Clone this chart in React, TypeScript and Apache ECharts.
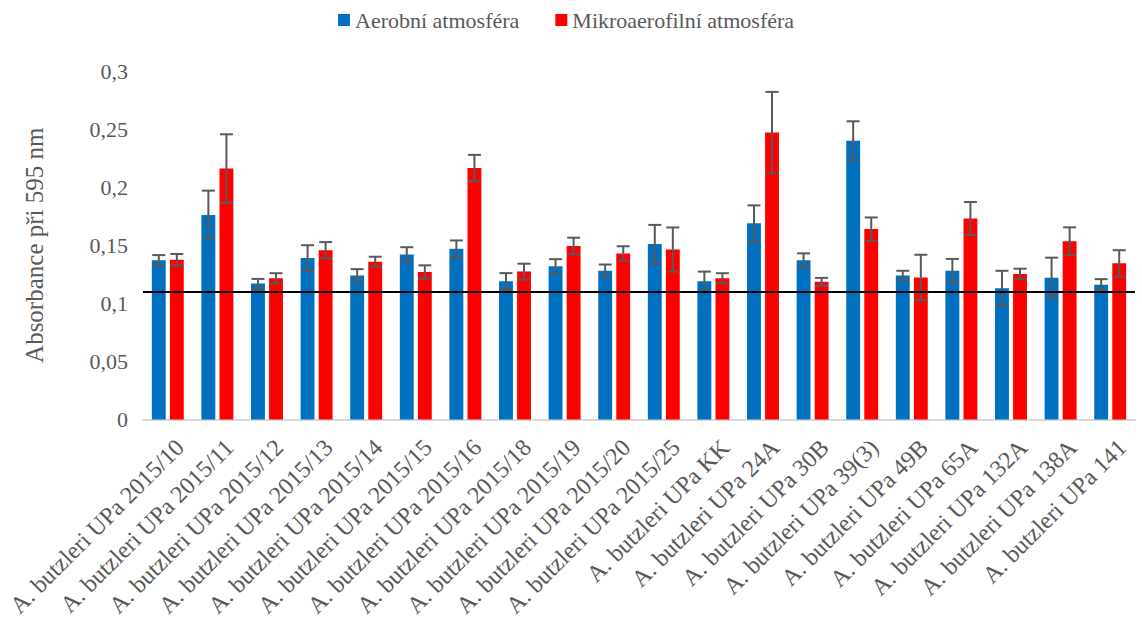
import React, { useEffect, useRef } from "react";
import * as echarts from "echarts";

const categories = [
  "A. butzleri UPa 2015/10",
  "A. butzleri UPa 2015/11",
  "A. butzleri UPa 2015/12",
  "A. butzleri UPa 2015/13",
  "A. butzleri UPa 2015/14",
  "A. butzleri UPa 2015/15",
  "A. butzleri UPa 2015/16",
  "A. butzleri UPa 2015/18",
  "A. butzleri UPa 2015/19",
  "A. butzleri UPa 2015/20",
  "A. butzleri UPa 2015/25",
  "A. butzleri UPa KK",
  "A. butzleri UPa 24A",
  "A. butzleri UPa 30B",
  "A. butzleri UPa 39(3)",
  "A. butzleri UPa 49B",
  "A. butzleri UPa 65A",
  "A. butzleri UPa 132A",
  "A. butzleri UPa 138A",
  "A. butzleri UPa 141",
];

const aerobic = [0.137, 0.176, 0.117, 0.139, 0.124, 0.142, 0.147, 0.119, 0.132, 0.128, 0.151, 0.119, 0.169, 0.137, 0.240, 0.124, 0.128, 0.113, 0.122, 0.116];
const aerobicErr = [0.0045, 0.021, 0.004, 0.011, 0.0054, 0.0063, 0.0071, 0.007, 0.006, 0.0054, 0.0165, 0.0083, 0.0153, 0.006, 0.0167, 0.004, 0.0102, 0.015, 0.0173, 0.0048];
const micro = [0.1375, 0.216, 0.1216, 0.1457, 0.1358, 0.127, 0.2165, 0.1273, 0.1494, 0.1429, 0.1463, 0.1216, 0.247, 0.1185, 0.1639, 0.1222, 0.173, 0.1253, 0.1534, 0.1344];
const microErr = [0.005, 0.0295, 0.0043, 0.007, 0.0043, 0.0057, 0.0113, 0.0068, 0.0071, 0.0062, 0.019, 0.0043, 0.035, 0.0034, 0.01, 0.0196, 0.0142, 0.0045, 0.012, 0.0113];
const referenceLine = 0.111;

const seriesNames = ["Aerobní atmosféra", "Mikroaerofilní atmosféra"];
const colors = ["#0070C0", "#FF0000"];

const FONT = "Liberation Serif";
const TEXT = "#595959";

function errorSeries(values: number[], errs: number[], side: number) {
  return {
    type: "custom",
    z: 10,
    silent: true,
    data: values.map((v, i) => [i, v, errs[i]]),
    encode: { x: 0, y: 1 },
    renderItem: (params: any, api: any) => {
      const idx = api.value(0);
      const v = api.value(1);
      const e = api.value(2);
      const band = api.size([1, 0])[0];
      const center = api.coord([idx, v]);
      const x = center[0] + side * 0.182 * band;
      const hi = api.coord([idx, v + e])[1];
      const lo = api.coord([idx, v - e])[1];
      const hw = 6.5;
      const style = { stroke: "#595959", lineWidth: 2 };
      return {
        type: "group",
        children: [
          { type: "line", shape: { x1: x, y1: hi, x2: x, y2: lo }, style },
          { type: "line", shape: { x1: x - hw, y1: hi, x2: x + hw, y2: hi }, style },
          { type: "line", shape: { x1: x - hw, y1: lo, x2: x + hw, y2: lo }, style },
        ],
      };
    },
  };
}

export default function App() {
  const ref = useRef<HTMLDivElement>(null);
  useEffect(() => {
    if (!ref.current) return;
    const chart = echarts.init(ref.current, undefined, { renderer: "svg" });
    chart.setOption({
      animation: false,
      legend: {
        top: 4,
        left: 333,
        itemWidth: 12,
        itemHeight: 12,
        itemGap: 36,
        icon: "rect",
        data: seriesNames,
        textStyle: { fontFamily: FONT, fontSize: 22, color: TEXT },
      },
      grid: { left: 143, right: 7, top: 71, bottom: 197, containLabel: false },
      xAxis: {
        type: "category",
        data: categories,
        axisLine: { show: true, lineStyle: { color: "#d9d9d9", width: 2 } },
        axisTick: { show: false },
        axisLabel: {
          interval: 0,
          rotate: 45,
          margin: 12,
          verticalAlign: "top",
          padding: [5, 0, 0, 0],
          fontFamily: FONT,
          fontSize: 24,
          color: TEXT,
        },
      },
      yAxis: {
        type: "value",
        min: 0,
        max: 0.3,
        interval: 0.05,
        name: "Absorbance při 595 nm",
        nameLocation: "middle",
        nameGap: 96,
        nameTextStyle: { fontFamily: FONT, fontSize: 25, color: TEXT },
        axisLine: { show: false },
        axisTick: { show: false },
        splitLine: { show: false },
        axisLabel: {
          margin: 15,
          fontFamily: FONT,
          fontSize: 22,
          color: TEXT,
          formatter: (v: number) => String(Math.round(v * 100) / 100).replace(".", ","),
        },
      },
      series: [
        {
          name: seriesNames[0],
          type: "bar",
          data: aerobic,
          barWidth: "28%",
          barGap: "30%",
          itemStyle: { color: colors[0] },
        },
        {
          name: seriesNames[1],
          type: "bar",
          data: micro,
          barWidth: "28%",
          barGap: "30%",
          itemStyle: { color: colors[1] },
          markLine: {
            silent: true,
            symbol: "none",
            z: 20,
            label: { show: false },
            lineStyle: { color: "#000000", width: 2, type: "solid" },
            data: [{ yAxis: referenceLine }],
          },
        },
        errorSeries(aerobic, aerobicErr, -1),
        errorSeries(micro, microErr, 1),
      ],
    });
    return () => chart.dispose();
  }, []);
  return (
    <div
      ref={ref}
      style={{ position: "absolute", left: 0, top: 0, width: 1142, height: 620 }}
    />
  );
}
